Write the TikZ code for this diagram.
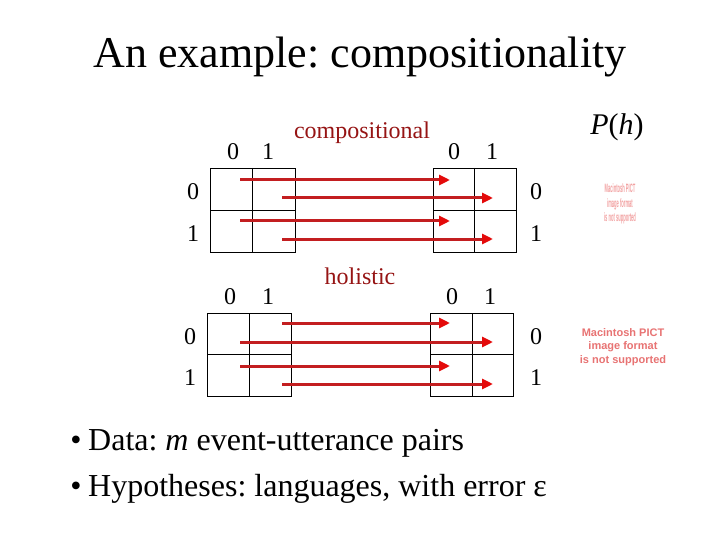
\documentclass[tikz,border=0pt]{standalone}
\usepackage{fontspec}
\setmainfont{Liberation Serif}
\newfontfamily\pictfont{Liberation Sans}
\usetikzlibrary{arrows.meta}
\frenchspacing
\definecolor{arrowred}{RGB}{195,30,32}
\definecolor{headred}{RGB}{228,10,10}
\definecolor{labelred}{RGB}{150,20,20}
\definecolor{pictpink}{RGB}{232,115,115}
\definecolor{pictfaint}{RGB}{242,160,160}
\tikzset{
  gridline/.style={draw=black, line width=0.9pt},
  maparrow/.style={draw=arrowred, line width=3pt,
    -{Triangle[length=11pt,width=10pt,fill=headred,color=headred]}},
  digit/.style={font=\fontsize{24}{28}\selectfont, anchor=base, inner sep=0pt},
  kind/.style={font=\fontsize{24}{28}\selectfont, text=labelred, anchor=base, inner sep=0pt},
  bullettext/.style={font=\fontsize{32}{38}\selectfont, anchor=base west, inner sep=0pt},
  pict/.style={font=\pictfont\bfseries\fontsize{11}{13.5}\selectfont, align=center, inner sep=0pt}
}
\begin{document}
\begin{tikzpicture}[x=1pt,y=-1pt]
\useasboundingbox (0,0) rectangle (720,540);
\fill[white] (0,0) rectangle (720,540);

% title
\node[font=\fontsize{44}{50}\selectfont, anchor=base, inner sep=0pt] (title) at (360,68) {An example: compositionality};

% P(h)
\node[font=\fontsize{30}{34}\selectfont, anchor=base, inner sep=0pt] (ph) at (617,135) {\textit{P}(\textit{h})};

% ---------- compositional ----------
\node[kind] (comp) at (362,139) {compositional};
% left grid
\draw[gridline] (210,168) rectangle (295,252);
\draw[gridline] (252,168) -- (252,252);
\draw[gridline] (210,210) -- (295,210);
% right grid
\draw[gridline] (433,168) rectangle (516,252);
\draw[gridline] (474,168) -- (474,252);
\draw[gridline] (433,210) -- (516,210);
% labels
\node[digit] (ca0) at (233,160) {0};
\node[digit] (ca1) at (268,160) {1};
\node[digit] (cb0) at (454,160) {0};
\node[digit] (cb1) at (492,160) {1};
\node[digit] (cr0) at (193,200) {0};
\node[digit] (cr1) at (193,241) {1};
\node[digit] (cs0) at (536,200) {0};
\node[digit] (cs1) at (536,241) {1};
% arrows
\coordinate (c1s) at (240,180); \coordinate (c1e) at (450,180);
\coordinate (c2s) at (282,198); \coordinate (c2e) at (493,198);
\coordinate (c3s) at (240,221); \coordinate (c3e) at (450,221);
\coordinate (c4s) at (282,239); \coordinate (c4e) at (493,239);
\draw[maparrow] (c1s) -- (c1e);
\draw[maparrow] (c2s) -- (c2e);
\draw[maparrow] (c3s) -- (c3e);
\draw[maparrow] (c4s) -- (c4e);

% ---------- holistic ----------
\node[kind] (hol) at (360,284) {holistic};
\draw[gridline] (207,313) rectangle (291,396);
\draw[gridline] (249,313) -- (249,396);
\draw[gridline] (207,354) -- (291,354);
\draw[gridline] (430,313) rectangle (513,396);
\draw[gridline] (472,313) -- (472,396);
\draw[gridline] (430,354) -- (513,354);
\node[digit] (ha0) at (230,304) {0};
\node[digit] (ha1) at (268,304) {1};
\node[digit] (hb0) at (452,304) {0};
\node[digit] (hb1) at (490,304) {1};
\node[digit] (hr0) at (190,344) {0};
\node[digit] (hr1) at (190,385) {1};
\node[digit] (hs0) at (536,344) {0};
\node[digit] (hs1) at (536,385) {1};
\coordinate (h1s) at (282,323); \coordinate (h1e) at (450,323);
\coordinate (h2s) at (240,342); \coordinate (h2e) at (493,342);
\coordinate (h3s) at (240,366); \coordinate (h3e) at (450,366);
\coordinate (h4s) at (282,384); \coordinate (h4e) at (493,384);
\draw[maparrow] (h1s) -- (h1e);
\draw[maparrow] (h2s) -- (h2e);
\draw[maparrow] (h3s) -- (h3e);
\draw[maparrow] (h4s) -- (h4e);

% PICT placeholders
\node[pict, text=pictfaint, xscale=0.37, yscale=1.1] (pict1) at (620,204) {Macintosh PICT\\image format\\is not supported};
\node[pict, text=pictpink] (pict2) at (623,347) {Macintosh PICT\\image format\\is not supported};

% bullets
\node[bullettext, anchor=base] (b1) at (76,450) {•};
\node[bullettext] (t1) at (88,450) {Data: \textit{m} event-utterance pairs};
\node[bullettext, anchor=base] (b2) at (76,496) {•};
\node[bullettext] (t2) at (88,496) {Hypotheses: languages, with error ε};
\end{tikzpicture}
\end{document}
